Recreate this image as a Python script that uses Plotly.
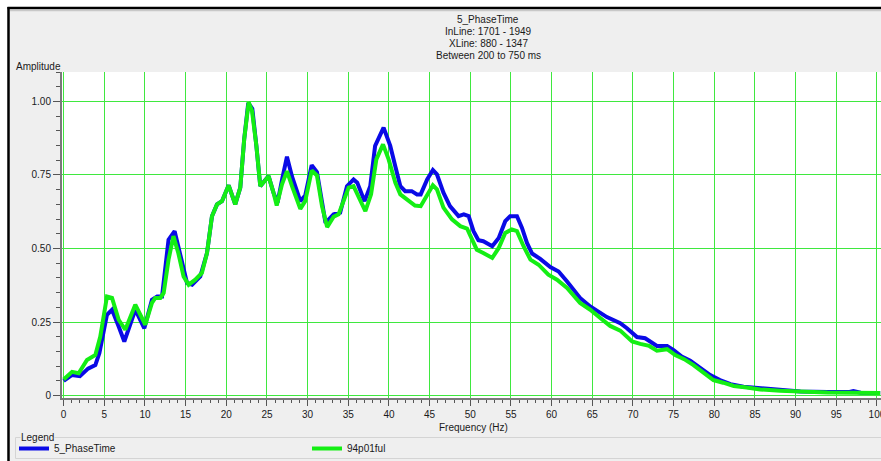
import plotly.graph_objects as go

# ---- data ----
freq_phase = [0, 1.0, 2.0, 3.0, 3.9, 4.4, 5.33, 5.95, 6.77, 7.46, 8.81, 9.92, 10.86, 11.5, 12.1,
              12.9, 13.65, 14.1, 15.17, 15.8, 16.8, 17.63, 18.24, 18.86, 19.47, 20.29, 21.1, 21.72,
              22.2, 22.7, 23.2, 23.7, 24.18, 24.67, 25.2, 25.8, 26.3, 26.9, 27.46, 28.08, 29.1,
              29.7, 30.5, 31.15, 32.2, 33.2, 34.0, 34.84, 35.65, 36.1, 37.0, 37.7, 38.3, 39.34,
              40.16, 40.78, 41.4, 42.0, 42.8, 43.45, 43.9, 44.7, 45.4, 45.9, 46.7, 47.5, 48.56,
              49.2, 49.8, 50.4, 51.0, 51.6, 52.7, 53.5, 54.3, 54.9, 55.74, 56.36, 56.97, 57.6,
              58.6, 59.84, 60.86, 61.9, 63.5, 64.75, 65.98, 66.8, 68.44, 69.26, 70.5, 71.5, 72.95,
              74.2, 75.0, 76.0, 77.05, 78.3, 79.5, 80.7, 82.0, 83.6, 85.65, 88.1, 90.6, 93.9,
              96.5, 97.1, 98.0, 100.4]
amp_phase = [0.05, 0.07, 0.066, 0.092, 0.104, 0.145, 0.275, 0.292, 0.235, 0.184, 0.292, 0.229,
             0.326, 0.337, 0.337, 0.53, 0.559, 0.508, 0.383, 0.377, 0.405, 0.485, 0.61, 0.65,
             0.661, 0.715, 0.65, 0.707, 0.871, 0.995, 0.975, 0.849, 0.712, 0.729, 0.746, 0.69,
             0.656, 0.74, 0.812, 0.745, 0.661, 0.68, 0.783, 0.76, 0.587, 0.616, 0.622, 0.712,
             0.735, 0.724, 0.661, 0.712, 0.849, 0.911, 0.849, 0.78, 0.712, 0.695, 0.695, 0.684,
             0.684, 0.735, 0.767, 0.752, 0.69, 0.644, 0.61, 0.616, 0.61, 0.559, 0.528, 0.525,
             0.508, 0.536, 0.593, 0.61, 0.61, 0.57, 0.519, 0.483, 0.465, 0.437, 0.422, 0.388,
             0.332, 0.303, 0.281, 0.267, 0.246, 0.229, 0.199, 0.195, 0.169, 0.169, 0.155, 0.133,
             0.119, 0.093, 0.07, 0.053, 0.039, 0.03, 0.025, 0.017, 0.014, 0.012, 0.012, 0.016,
             0.01, 0.009]

freq_ful = [0, 1.03, 1.85, 2.87, 3.9, 4.5, 5.33, 5.95, 6.77, 7.58, 8.81, 10.04, 10.86, 11.27,
            11.89, 12.3, 12.9, 13.5, 14.1, 14.75, 15.37, 16.19, 17.0, 17.63, 18.24, 18.86, 19.47,
            20.29, 21.1, 21.72, 22.2, 22.75, 23.16, 23.7, 24.18, 24.67, 25.2, 25.8, 26.2, 26.85,
            27.46, 28.08, 29.1, 29.7, 30.5, 31.15, 31.77, 32.4, 33.2, 33.8, 35.04, 35.65, 37.1,
            37.8, 38.45, 39.27, 39.96, 40.78, 41.4, 42.2, 43.2, 43.9, 44.7, 45.4, 45.9, 46.7,
            47.75, 48.77, 49.6, 50.8, 51.6, 52.7, 53.5, 54.3, 55.1, 55.74, 56.55, 57.4, 58.4,
            59.6, 60.66, 61.9, 63.5, 64.75, 65.98, 67.2, 68.44, 69.9, 70.9, 72.0, 72.95, 74.2,
            75.2, 76.3, 77.45, 78.7, 79.9, 81.1, 82.4, 84.0, 85.65, 88.1, 90.6, 93.9, 100.4]
amp_ful = [0.055, 0.081, 0.076, 0.121, 0.138, 0.2, 0.337, 0.332, 0.258, 0.224, 0.309, 0.241,
           0.315, 0.332, 0.332, 0.349, 0.462, 0.542, 0.485, 0.405, 0.377, 0.394, 0.417, 0.485,
           0.61, 0.65, 0.661, 0.715, 0.65, 0.707, 0.871, 0.997, 0.968, 0.849, 0.712, 0.729,
           0.746, 0.69, 0.646, 0.718, 0.763, 0.712, 0.635, 0.661, 0.765, 0.748, 0.644, 0.573,
           0.608, 0.616, 0.707, 0.712, 0.627, 0.684, 0.803, 0.854, 0.803, 0.724, 0.684, 0.667,
           0.646, 0.644, 0.684, 0.715, 0.701, 0.639, 0.599, 0.576, 0.568, 0.496, 0.485, 0.468,
           0.502, 0.553, 0.565, 0.559, 0.508, 0.462, 0.445, 0.411, 0.394, 0.366, 0.315, 0.292,
           0.264, 0.237, 0.221, 0.184, 0.176, 0.169, 0.153, 0.158, 0.138, 0.124, 0.104, 0.076,
           0.053, 0.044, 0.033, 0.028, 0.021, 0.017, 0.013, 0.011, 0.009]

series_names = ["5_PhaseTime", "94p01ful"]
y_tickvals = [0, 0.25, 0.5, 0.75, 1.0]
y_ticktext = ["0", "0.25", "0.50", "0.75", "1.00"]
title_lines = ["5_PhaseTime", "InLine: 1701 - 1949", "XLine: 880 - 1347", "Between 200 to 750 ms"]

# ---- layout geometry (pixels) ----
W, H = 881, 461
L, R, T, B = 62, 0, 72, 63
PW, PH = W - L - R, H - T - B


def px(x):
    return (x - L) / PW


def py(y):
    return (H - B - y) / PH


def cx(x):
    return x / W


def cy(y):
    return 1 - y / H


FONT = "Liberation Sans"
TXT = "#1a1a1a"

fig = go.Figure()
fig.add_trace(go.Scatter(x=freq_phase, y=amp_phase, mode="lines", name=series_names[0],
                         line=dict(color="#0a0ae6", width=4)))
fig.add_trace(go.Scatter(x=freq_ful, y=amp_ful, mode="lines", name=series_names[1],
                         line=dict(color="#14ee14", width=4)))

shapes = [
    # white outside of window frame
    dict(type="rect", xref="paper", yref="paper", x0=px(0), x1=px(W + 2), y0=py(0), y1=py(7),
         fillcolor="white", line=dict(width=0), layer="above"),
    dict(type="rect", xref="paper", yref="paper", x0=px(0), x1=px(7.5), y0=py(0), y1=py(H + 2),
         fillcolor="white", line=dict(width=0), layer="above"),
    # black frame lines
    dict(type="line", xref="paper", yref="paper", x0=px(7.5), x1=px(W + 2), y0=py(8), y1=py(8),
         line=dict(color="#000000", width=2.5), layer="above"),
    dict(type="line", xref="paper", yref="paper", x0=px(8.5), x1=px(8.5), y0=py(7), y1=py(H + 2),
         line=dict(color="#000000", width=2.5), layer="above"),
    dict(type="line", xref="paper", yref="paper", x0=px(10), x1=px(W + 2), y0=py(10.5), y1=py(10.5),
         line=dict(color="#c8c8c8", width=1.5), layer="above"),
    # legend group box
    dict(type="rect", xref="paper", yref="paper", x0=px(15.5), x1=px(W + 5), y0=py(437.5), y1=py(458.5),
         fillcolor="rgba(0,0,0,0)", line=dict(color="#d4d4d4", width=1), layer="below"),
]

annotations = []
for i, t in enumerate(title_lines):
    annotations.append(dict(text=t, xref="paper", yref="paper", x=px(488), y=py(19 + 12 * i),
                            xanchor="center", yanchor="middle", showarrow=False,
                            font=dict(family=FONT, size=10, color=TXT)))
annotations.append(dict(text="Amplitude", xref="paper", yref="paper", x=px(14), y=py(66),
                        xanchor="left", yanchor="middle", showarrow=False,
                        font=dict(family=FONT, size=10, color=TXT)))
annotations.append(dict(text="Frequency (Hz)", xref="paper", yref="paper", x=px(473), y=py(427),
                        xanchor="center", yanchor="middle", showarrow=False,
                        font=dict(family=FONT, size=10, color=TXT)))
annotations.append(dict(text="Legend", xref="paper", yref="paper", x=px(20), y=py(437),
                        xanchor="left", yanchor="middle", showarrow=False, bgcolor="#efefef",
                        borderpad=0, font=dict(family=FONT, size=10, color=TXT)))

fig.update_layout(
    width=W, height=H, autosize=False,
    margin=dict(l=L, r=R, t=T, b=B, pad=0, autoexpand=False),
    paper_bgcolor="#efefef", plot_bgcolor="#ffffff",
    font=dict(family=FONT, size=10, color=TXT),
    shapes=shapes, annotations=annotations,
    showlegend=True,
    legend=dict(orientation="h", xref="container", yref="container", x=cx(14), y=cy(434),
                xanchor="left", yanchor="top",
                bgcolor="rgba(0,0,0,0)", borderwidth=0, entrywidth=248, entrywidthmode="pixels",
                font=dict(family=FONT, size=10, color=TXT), tracegroupgap=0),
    xaxis=dict(range=[-0.2, 100.5], tick0=0, dtick=5, showgrid=True, gridcolor="#3fe83f",
               gridwidth=1, zeroline=False, showline=True, linecolor="#7a7a7a", linewidth=2,
               ticks="outside", ticklen=6, tickcolor="#555555", tickwidth=1,
               ticklabeloverflow="allow", automargin=False,
               tickfont=dict(family=FONT, size=10, color=TXT),
               minor=dict(tick0=0, dtick=1, ticks="outside", ticklen=3, tickcolor="#555555",
                          showgrid=False)),
    yaxis=dict(range=[-0.008, 1.1], tickmode="array", tickvals=y_tickvals, ticktext=y_ticktext,
               showgrid=True, gridcolor="#3fe83f", gridwidth=1, zeroline=False, showline=True,
               linecolor="#7a7a7a", linewidth=2, ticks="outside", ticklen=7, tickcolor="#555555",
               tickwidth=1, automargin=False, tickfont=dict(family=FONT, size=10, color=TXT),
               minor=dict(tickmode="linear", tick0=0, dtick=0.05, ticks="outside", ticklen=4,
                          tickcolor="#555555", showgrid=False)),
)

fig.write_html("out.html")
